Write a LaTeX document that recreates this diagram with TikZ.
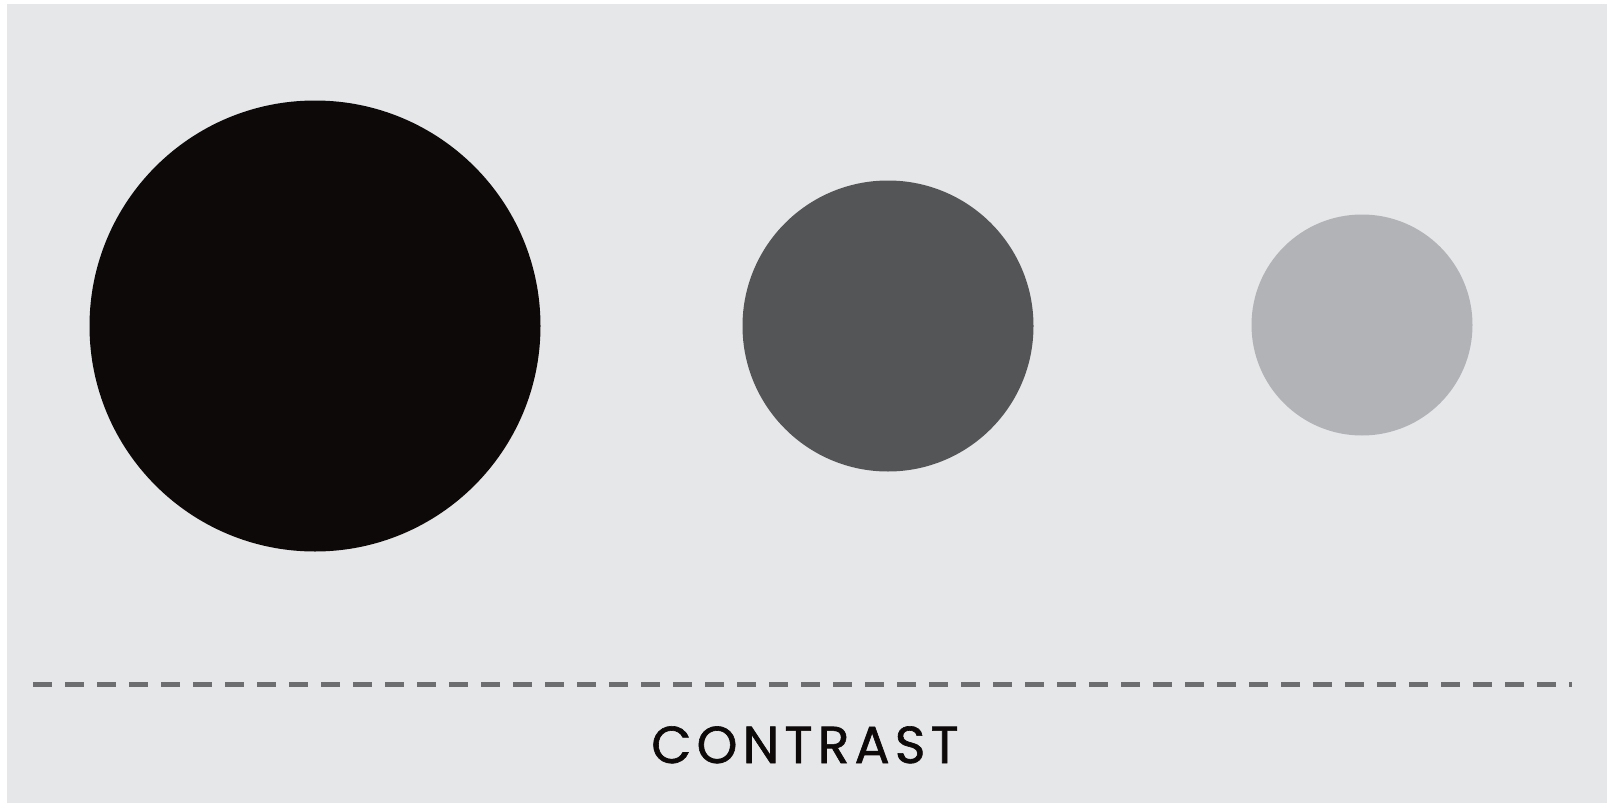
\documentclass[tikz,border=0pt]{standalone}
\usepackage{fontspec}
\newfontfamily\labelfont[LetterSpace=10,FakeBold=1.2]{Poppins}
\definecolor{bgpanel}{HTML}{E6E7E9}
\definecolor{dotblack}{HTML}{0C0908}
\definecolor{dotdark}{HTML}{545557}
\definecolor{dotlight}{HTML}{B2B3B6}
\definecolor{dashgray}{HTML}{6D6E70}
\begin{document}
\begin{tikzpicture}[x=1pt,y=-1pt,
  rule/.style={draw=dashgray,line width=5pt,dash pattern=on 19pt off 13pt},
  caption/.style={font=\labelfont\fontsize{52}{52}\selectfont,text=dotblack,anchor=base,inner sep=0pt}]
\useasboundingbox (0,0) rectangle (1609,803);
\fill[white] (0,0) rectangle (1609,803);
\fill[bgpanel] (7,4) rectangle (1607,803);
\coordinate (big) at (315,326);
\coordinate (mid) at (888,326);
\coordinate (small) at (1362,325);
\fill[dotblack] (big) circle[radius=225.5];
\fill[dotdark] (mid) circle[radius=145.5];
\fill[dotlight] (small) circle[radius=110.5];
\coordinate (ruleL) at (33,684);
\coordinate (ruleR) at (1572,684);
\draw[rule] (ruleL) -- (ruleR);
\node[caption] (label) at (805,763) {CONTRAST};
\end{tikzpicture}
\end{document}
